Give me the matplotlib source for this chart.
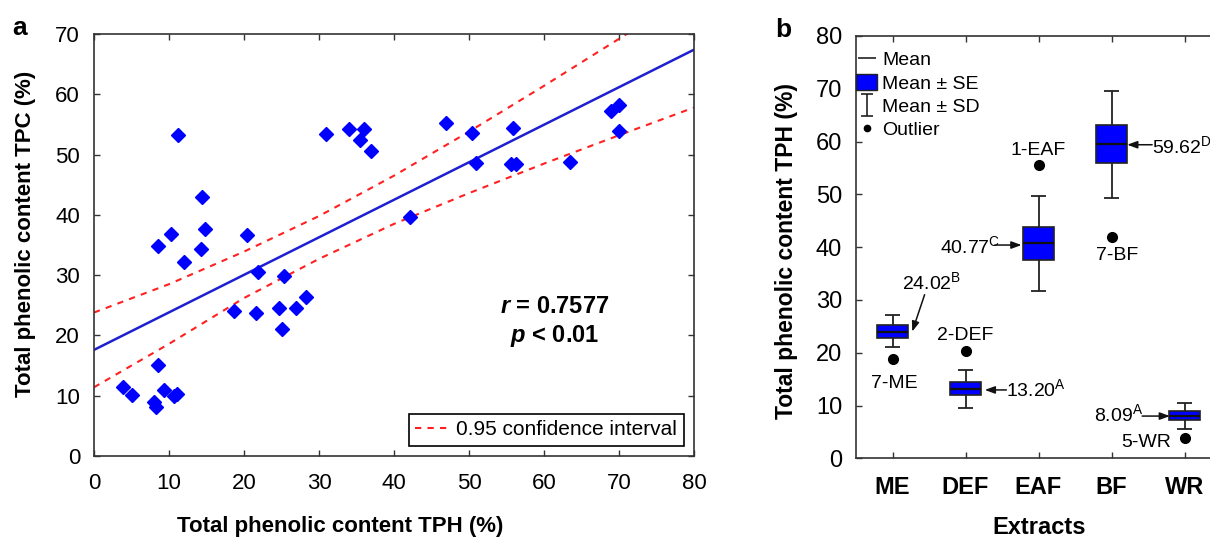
import matplotlib
matplotlib.use("Agg")
import matplotlib.pyplot as plt
from matplotlib.lines import Line2D
from matplotlib.patches import Patch
from matplotlib.path import Path

plt.rcParams['font.family'] = ['Liberation Sans', 'DejaVu Sans']
plt.rcParams['mathtext.fontset'] = 'custom'
plt.rcParams['mathtext.rm'] = 'Liberation Sans'
plt.rcParams['mathtext.it'] = 'Liberation Sans:italic:bold'
plt.rcParams['mathtext.bf'] = 'Liberation Sans:bold'

# ---------------- Panel a data ----------------
x_tph = [11.15, 30.9, 33.96, 36.0, 35.5, 36.9, 14.4, 10.3, 14.8, 20.4, 8.5, 14.2,
         12.0, 21.8, 25.3, 18.7, 21.6, 24.6, 26.9, 28.2, 25.0, 8.5, 3.9, 5.1, 9.3,
         10.7, 11.1, 8.0, 8.2, 46.9, 50.4, 55.9, 50.9, 55.6, 56.2, 63.5, 68.9, 70.0,
         69.96, 42.1]
y_tpc = [53.2, 53.4, 54.3, 54.3, 52.4, 50.6, 43.0, 36.9, 37.7, 36.7, 34.9, 34.4,
         32.1, 30.6, 29.9, 24.0, 23.8, 24.6, 24.6, 26.4, 21.1, 15.1, 11.4, 10.2, 11.0,
         10.0, 10.3, 9.0, 8.2, 55.2, 53.6, 54.4, 48.6, 48.4, 48.5, 48.8, 57.2, 58.3,
         53.9, 39.6]
fit_x = [0, 80]
fit_y = [17.6, 67.4]
ci_x = [0, 10, 20, 30, 40, 50, 60, 70, 80]
ci_upper = [23.8, 28.5, 33.9, 39.8, 46.5, 53.8, 61.4, 69.2, 77.0]
ci_lower = [11.4, 18.6, 26.2, 32.7, 38.5, 43.6, 48.5, 53.2, 57.8]
xticks_a = [0, 10, 20, 30, 40, 50, 60, 70, 80]
yticks_a = [0, 10, 20, 30, 40, 50, 60, 70]

# ---------------- Panel b data ----------------
extracts = ['ME', 'DEF', 'EAF', 'BF', 'WR']
means = [24.02, 13.20, 40.77, 59.62, 8.09]
box_lo = [22.7, 11.9, 37.5, 55.9, 7.3]
box_hi = [25.3, 14.5, 43.9, 63.2, 9.0]
whisk_lo = [21.0, 9.6, 31.7, 49.4, 5.55]
whisk_hi = [27.1, 16.7, 49.6, 69.6, 10.5]
outlier_pos = [1, 2, 3, 4, 5]
outlier_val = [18.8, 20.3, 55.6, 42.0, 3.8]
outlier_lbl = ['7-ME', '2-DEF', '1-EAF', '7-BF', '5-WR']
mean_lbl = ['24.02$^{\\mathrm{B}}$', '13.20$^{\\mathrm{A}}$', '40.77$^{\\mathrm{C}}$',
            '59.62$^{\\mathrm{D}}$', '8.09$^{\\mathrm{A}}$']
yticks_b = [0, 10, 20, 30, 40, 50, 60, 70, 80]

W, H = 1210, 538
fig = plt.figure(figsize=(W / 100, H / 100), dpi=100)

def rect(l, t, r, b):
    return [l / W, 1 - b / H, (r - l) / W, (b - t) / H]

BLUE = '#0000ff'

# ---------------- Panel a ----------------
ax = fig.add_axes(rect(94, 34, 694, 456))
ax.plot(fit_x, fit_y, color='#1f1fd0', lw=1.8, zorder=2)
ax.plot(ci_x, ci_upper, color='#ff2020', lw=1.5, ls=(0, (3, 3)), zorder=2)
ax.plot(ci_x, ci_lower, color='#ff2020', lw=1.5, ls=(0, (3, 3)), zorder=2,
        label='0.95 confidence interval')
ax.plot(x_tph, y_tpc, ls='none', marker='D', ms=7, color=BLUE, mec=BLUE, zorder=3)
ax.set_xlim(0, 80)
ax.set_ylim(0, 70)
ax.set_xticks(xticks_a)
ax.set_yticks(yticks_a)
ax.tick_params(direction='in', length=4, width=1, top=True, right=True,
               labelsize=16, color='#333333')
ax.tick_params(axis='x', pad=12)
ax.tick_params(axis='y', pad=10)
for s in ax.spines.values():
    s.set_linewidth(1.2)
    s.set_color('#333333')
leg = ax.legend(loc='lower right', fontsize=15, frameon=True, fancybox=False,
                edgecolor='black', framealpha=1, handlelength=1.6,
                handletextpad=0.4, borderaxespad=0.5, borderpad=0.3)
leg.get_frame().set_linewidth(1.2)
ax.text(0.767, 0.355, '$r$ = 0.7577', transform=ax.transAxes, ha='center',
        va='center', fontsize=17, fontweight='bold')
ax.text(0.767, 0.285, '$p$ < 0.01', transform=ax.transAxes, ha='center',
        va='center', fontsize=17, fontweight='bold')
fig.text(340 / W, 1 - 532 / H, 'Total phenolic content TPH (%)', ha='center',
         va='baseline', fontsize=16, fontweight='bold')
fig.text(26 / W, 1 - 234 / H, 'Total phenolic content TPC (%)', ha='center',
         va='center', rotation=90, fontsize=16, fontweight='bold')
fig.text(12 / W, 1 - 35 / H, 'a', ha='left', va='baseline', fontsize=19,
         fontweight='bold')

# ---------------- Panel b ----------------
bx = fig.add_axes(rect(856, 36, 1221, 458.3))
pos = list(range(1, len(extracts) + 1))
bx.vlines(pos, whisk_lo, whisk_hi, color='#222222', lw=1.3, zorder=1)
bx.hlines(whisk_lo, [p - 0.1 for p in pos], [p + 0.1 for p in pos],
          color='#222222', lw=1.3, zorder=1)
bx.hlines(whisk_hi, [p - 0.1 for p in pos], [p + 0.1 for p in pos],
          color='#222222', lw=1.3, zorder=1)
bx.bar(pos, [h - l for h, l in zip(box_hi, box_lo)], bottom=box_lo, width=0.42,
       color=BLUE, edgecolor='#222222', lw=1.2, zorder=2)
bx.hlines(means, [p - 0.21 for p in pos], [p + 0.21 for p in pos],
          color='#111111', lw=1.6, zorder=3)
bx.plot(outlier_pos, outlier_val, ls='none', marker='o', ms=7, color='black', zorder=3)

bx.set_xlim(0.5, 5.5)
bx.set_ylim(0, 80)
bx.set_yticks(yticks_b)
bx.set_xticks(pos)
bx.set_xticklabels(extracts, fontweight='bold', fontsize=17)
bx.tick_params(direction='in', length=4, width=1, top=True, right=True,
               labelsize=17, color='#333333')
bx.tick_params(axis='x', pad=13)
bx.tick_params(axis='y', pad=10)
for s in bx.spines.values():
    s.set_linewidth(1.2)
    s.set_color('#333333')

# outlier labels
lab_xy = [(1.03, 13.3), (2.0, 22.4), (3.0, 57.5), (4.08, 37.5), (4.48, 2.2)]
for (lx, ly), t in zip(lab_xy, outlier_lbl):
    bx.text(lx, ly, t, ha='center', va='baseline', fontsize=14)

# mean labels with arrows
txt_xy = [(1.13, 32.0, 'left'), (2.56, 11.8, 'left'), (1.648, 38.9, 'left'),
          (4.557, 57.9, 'left'), (3.758, 7.07, 'left')]
arr = [((1.44, 31.0), (1.27, 24.0)), ((2.56, 12.95), (2.264, 12.95)),
       ((2.40, 40.4), (2.767, 40.4)), ((4.557, 59.4), (4.215, 59.4)),
       ((4.42, 8.0), (4.80, 8.0))]
for (tx, ty, ha), t in zip(txt_xy, mean_lbl):
    bx.text(tx, ty, t, ha=ha, va='baseline', fontsize=14)
for (tail, head) in arr:
    bx.annotate('', xy=head, xytext=tail,
                arrowprops=dict(arrowstyle='-|>,head_length=0.6,head_width=0.22',
                                color='#111111', lw=1.1, shrinkA=0, shrinkB=0))

sd_marker = Path([(-0.5, -1), (0.5, -1), (0, -1), (0, 1), (-0.5, 1), (0.5, 1)],
                 [Path.MOVETO, Path.LINETO, Path.MOVETO, Path.LINETO,
                  Path.MOVETO, Path.LINETO])
handles = [Line2D([], [], ls='none', marker='_', ms=13, mew=1.2, color='#222222'),
           Patch(facecolor=BLUE, edgecolor='#222222'),
           Line2D([], [], ls='none', marker=sd_marker, ms=16, mec='#222222',
                  mfc='none', mew=1.2),
           Line2D([], [], ls='none', marker='o', ms=4.5, color='black')]
bx.legend(handles, ['Mean', 'Mean ± SE', 'Mean ± SD', 'Outlier'],
          loc='upper left', bbox_to_anchor=(0.0, 0.966), frameon=False,
          fontsize=14, handlelength=1.1, handleheight=0.95, handletextpad=0.25,
          labelspacing=0.22, borderaxespad=0.0, borderpad=0.0)

fig.text(1039 / W, 1 - 534 / H, 'Extracts', ha='center', va='baseline',
         fontsize=17, fontweight='bold')
fig.text(786 / W, 1 - 251 / H, 'Total phenolic content TPH (%)', ha='center',
         va='center', rotation=90, fontsize=16.5, fontweight='bold')
fig.text(775 / W, 1 - 37 / H, 'b', ha='left', va='baseline', fontsize=19,
         fontweight='bold')

fig.savefig('out.png', dpi=100)
